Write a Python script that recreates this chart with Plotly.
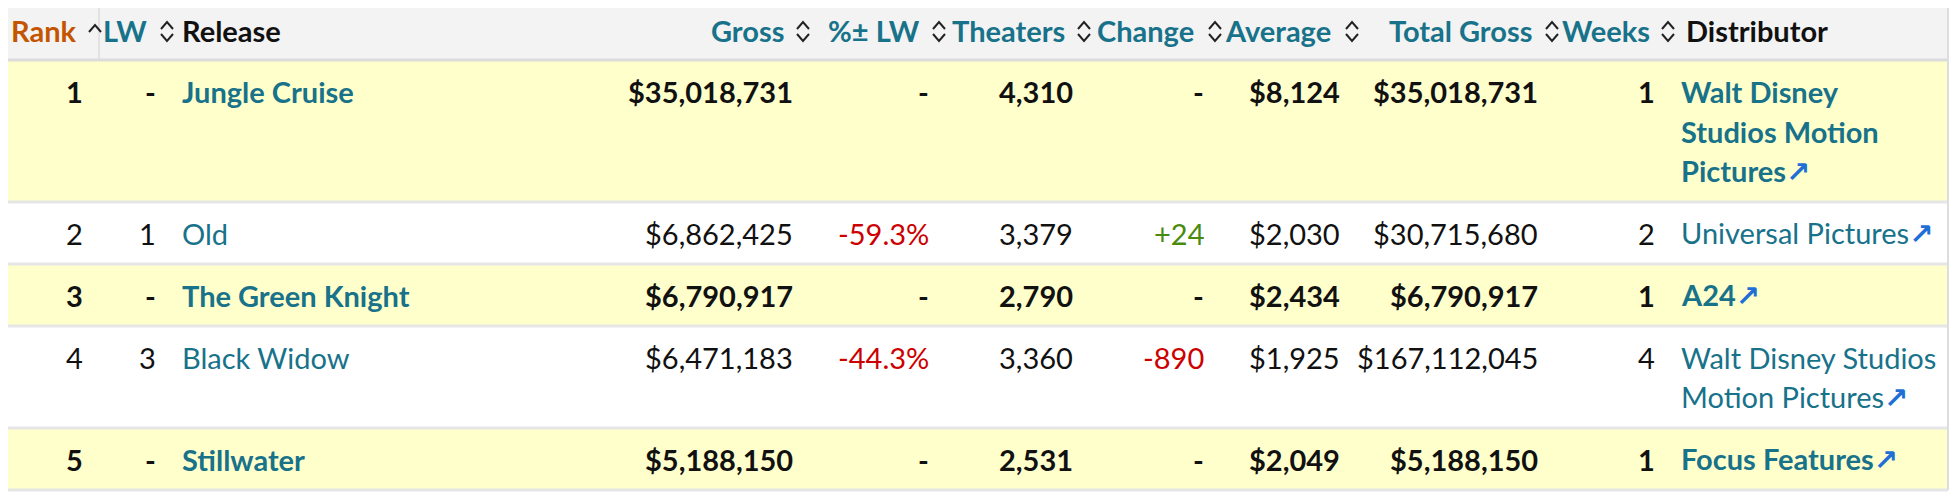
import textwrap
import plotly.graph_objects as go

# weekend box office table (data)
rank = [1, 2, 3, 4, 5]
last_week = ["-", "1", "-", "3", "-"]
release = ["Jungle Cruise", "Old", "The Green Knight", "Black Widow", "Stillwater"]
gross = [35018731, 6862425, 6790917, 6471183, 5188150]
pct_lw = [None, -59.3, None, -44.3, None]
theaters = [4310, 3379, 2790, 3360, 2531]
change = [None, 24, None, -890, None]
average = [8124, 2030, 2434, 1925, 2049]
total_gross = [35018731, 30715680, 6790917, 167112045, 5188150]
weeks = [1, 2, 1, 4, 1]
distributor = ["Walt Disney Studios Motion Pictures", "Universal Pictures", "A24",
               "Walt Disney Studios Motion Pictures", "Focus Features"]

headers = ["Rank", "LW", "Release", "Gross", "%\u00b1 LW", "Theaters", "Change",
           "Average", "Total Gross", "Weeks", "Distributor"]

# layout / style
W, H = 1960, 500
OFF = 8  # page body margin, so axis units = window pixels
TABLE_R = 1948
HEADER_H = 60
ROW_H = 62
LINE_H = 40
TEXT_DY = 31
FONT = "Lato"
FS = 29
TEAL = "#17728a"
BLACK = "#111111"
ORANGE = "#c45500"
RED = "#cc0000"
GREEN = "#4a8a0e"
ICON = "#1f6fd6"
YELLOW = "#ffffcc"
BORDER = "#e6e6e6"

# value anchor x and alignment per column
val_x = [85, 158, 180, 795, 931, 1075, 1206, 1342, 1540, 1657, 1679]
val_align = ["right", "right", "left", "right", "right", "right", "right",
             "right", "right", "right", "left"]
# header label anchor x, alignment and caret x (None = not sortable)
head_x = [78, 149, 180, 786, 922, 1067, 1196, 1333, 1534, 1652, 1684]
head_align = ["right", "right", "left", "right", "right", "right", "right",
              "right", "right", "right", "left"]
caret_x = [95, 167, None, 803, 939, 1084, 1215, 1352, 1552, 1668, None]


def money(v):
    return f"${v:,}"


def signed_color(v):
    if v is None:
        return BLACK
    return RED if v < 0 else GREEN


def chevron(x, y_apex, y_base):
    return dict(type="path",
                path=f"M {x - 6},{y_base} L {x},{y_apex} L {x + 6},{y_base}",
                line=dict(color="#222222", width=2))


fig = go.Figure()
shapes = []
annotations = []

# header
shapes.append(dict(type="rect", x0=0, x1=TABLE_R, y0=0, y1=HEADER_H,
                   fillcolor="#f3f3f3", line_width=0, layer="below"))
shapes.append(dict(type="line", x0=99, x1=99, y0=0, y1=HEADER_H,
                   line=dict(color="#e2e2e2", width=2)))
shapes.append(dict(type="line", x0=0, x1=TABLE_R, y0=HEADER_H, y1=HEADER_H,
                   line=dict(color="#dcdcdc", width=3)))

for i, h in enumerate(headers):
    if i == 0:
        col = ORANGE
    elif caret_x[i] is None:
        col = BLACK
    else:
        col = TEAL
    annotations.append(dict(x=head_x[i], y=30, text=f"<b>{h}</b>", showarrow=False,
                            xanchor=head_align[i], yanchor="middle",
                            font=dict(family=FONT, size=FS, color=col)))
    if caret_x[i] is not None:
        if i == 0:
            shapes.append(chevron(caret_x[i], 25, 32))
        else:
            shapes.append(chevron(caret_x[i], 22, 29))
            shapes.append(chevron(caret_x[i], 41, 34))

# body rows
top = HEADER_H
for r in range(len(rank)):
    new = last_week[r] == "-"
    wrap = 14 if new else 19
    dist_lines = textwrap.wrap(distributor[r], wrap)
    row_h = ROW_H + LINE_H * (len(dist_lines) - 1)
    if new:
        shapes.append(dict(type="rect", x0=0, x1=TABLE_R, y0=top, y1=top + row_h,
                           fillcolor=YELLOW, line_width=0, layer="below"))
    shapes.append(dict(type="line", x0=0, x1=TABLE_R, y0=top + row_h, y1=top + row_h,
                       line=dict(color=BORDER, width=3)))

    cells = [
        (str(rank[r]), BLACK),
        (last_week[r], BLACK),
        (release[r], TEAL),
        (money(gross[r]), BLACK),
        ("-" if pct_lw[r] is None else f"{pct_lw[r]:+.1f}%", signed_color(pct_lw[r])),
        (f"{theaters[r]:,}", BLACK),
        ("-" if change[r] is None else f"{change[r]:+,}", signed_color(change[r])),
        (money(average[r]), BLACK),
        (money(total_gross[r]), BLACK),
        (str(weeks[r]), BLACK),
    ]
    y0 = top + TEXT_DY
    for c, (txt, colr) in enumerate(cells):
        t = f"<b>{txt}</b>" if new else txt
        annotations.append(dict(x=val_x[c], y=y0, text=t, showarrow=False,
                                xanchor=val_align[c], yanchor="middle",
                                font=dict(family=FONT, size=FS, color=colr)))
    for k, line in enumerate(dist_lines):
        t = f"<b>{line}</b>" if new else line
        if k == len(dist_lines) - 1:
            t += (f"<span style='color:{ICON};font-family:DejaVu Sans;"
                  f"font-weight:bold'>\u2197</span>")
        annotations.append(dict(x=val_x[10], y=y0 + k * LINE_H, text=t, showarrow=False,
                                xanchor="left", yanchor="middle",
                                font=dict(family=FONT, size=FS, color=TEAL)))
    top += row_h

# right border
shapes.append(dict(type="line", x0=TABLE_R, x1=TABLE_R, y0=0, y1=top,
                   line=dict(color="#dddddd", width=2)))

fig.update_layout(
    width=W, height=H,
    margin=dict(l=0, r=0, t=0, b=0),
    paper_bgcolor="white", plot_bgcolor="white",
    xaxis=dict(range=[OFF, W + OFF], visible=False, fixedrange=True),
    yaxis=dict(range=[H + OFF, OFF], visible=False, fixedrange=True),
    shapes=shapes, annotations=annotations,
    showlegend=False,
)

fig.write_html("out.html")
